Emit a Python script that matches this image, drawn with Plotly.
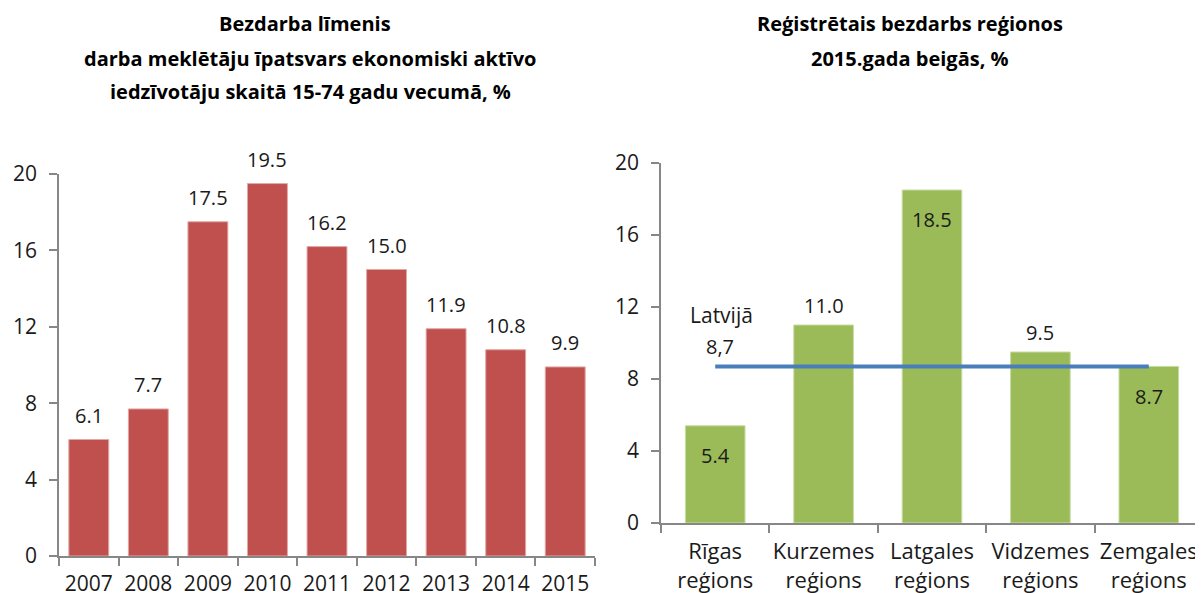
import plotly.graph_objects as go

years = ["2007", "2008", "2009", "2010", "2011", "2012", "2013", "2014", "2015"]
rate = [6.1, 7.7, 17.5, 19.5, 16.2, 15.0, 11.9, 10.8, 9.9]

regions = ["Rīgas<br>reģions", "Kurzemes<br>reģions", "Latgales<br>reģions",
           "Vidzemes<br>reģions", "Zemgales<br>reģions"]
reg_rate = [5.4, 11.0, 18.5, 9.5, 8.7]
reg_label_inside = [True, False, True, False, True]
latvia = 8.7
latvia_label = "8,7"

y_ticks = [0, 4, 8, 12, 16, 20]

FONT = "Open Sans"
TXT = "#1a1a1a"
AX = "#878787"
FS = 20

# page body has an 8px margin: figure is placed at (8, 8) in the window
W, H, OFF = 1195, 585, 8


def px(X):
    return (X - OFF) / W


def py(Y):
    return 1 - (Y - OFF) / H


fig = go.Figure()
fig.add_trace(go.Bar(x=years, y=rate, width=0.67,
                     marker=dict(color="#c0504d", line=dict(color="#e0a8a6", width=1)),
                     xaxis="x", yaxis="y", showlegend=False, hoverinfo="skip"))
fig.add_trace(go.Bar(x=regions, y=reg_rate, width=0.55,
                     marker=dict(color="#9bbb59", line=dict(color="#c6dca0", width=1)),
                     xaxis="x2", yaxis="y2", showlegend=False, hoverinfo="skip"))
fig.add_trace(go.Scatter(x=regions, y=[latvia] * len(regions), mode="lines",
                         line=dict(color="#4a7ebb", width=4),
                         xaxis="x2", yaxis="y2", showlegend=False, hoverinfo="skip"))

ann = []
for i, v in enumerate(rate):
    ann.append(dict(x=i, y=v, xref="x", yref="y", text=f"{v:.1f}", showarrow=False,
                    yanchor="middle", yshift=24, font=dict(size=FS, color=TXT, family=FONT)))
for i, (v, ins) in enumerate(zip(reg_rate, reg_label_inside)):
    ann.append(dict(x=i, y=v, xref="x2", yref="y2", text=f"{v:.1f}", showarrow=False,
                    yanchor="middle", yshift=-30 if ins else 20,
                    font=dict(size=FS, color=TXT, family=FONT)))
ann.append(dict(x=0, y=latvia, xref="x2", yref="y2", text="Latvijā", showarrow=False,
                yanchor="middle", yshift=51, xshift=6, font=dict(size=21, color=TXT, family=FONT)))
ann.append(dict(x=0, y=latvia, xref="x2", yref="y2", text=latvia_label, showarrow=False,
                yanchor="middle", yshift=20, xshift=5, font=dict(size=FS, color=TXT, family=FONT)))

tfont = dict(size=20, color="#000000", family=FONT, weight="bold")
for text, x, ypx in [("Bezdarba līmenis", 305, 23),
                     ("darba meklētāju īpatsvars ekonomiski aktīvo", 310, 58),
                     ("iedzīvotāju skaitā 15-74 gadu vecumā, %", 310, 92),
                     ("Reģistrētais bezdarbs reģionos", 910, 23),
                     ("2015.gada beigās, %", 910, 58)]:
    ann.append(dict(x=px(x), y=py(ypx), xref="paper", yref="paper", text=text,
                    showarrow=False, xanchor="center", yanchor="middle", font=tfont))

axis_common = dict(showline=True, linecolor=AX, linewidth=1.5, ticks="outside",
                   tickcolor=AX, ticklen=8, tickwidth=1.5, showgrid=False, zeroline=False,
                   fixedrange=True, automargin=False, ticklabelstandoff=8)

fig.update_layout(
    width=W, height=H,
    margin=dict(l=0, r=0, t=0, b=0, autoexpand=False),
    paper_bgcolor="white", plot_bgcolor="white",
    annotations=ann,
    xaxis=dict(domain=[px(59), px(595)], anchor="y", type="category", range=[-0.5, 8.5],
               tickson="boundaries", tickangle=0,
               tickfont=dict(size=21, color=TXT, family=FONT), **axis_common),
    yaxis=dict(domain=[py(556), py(174)], anchor="x", range=[0, 20],
               tickvals=y_ticks, tickfont=dict(size=21, color=TXT, family=FONT), **axis_common),
    xaxis2=dict(domain=[px(661), 1.0], anchor="y2", type="category", range=[-0.5, 4.5],
                tickson="boundaries", tickangle=0,
                tickfont=dict(size=22, color=TXT, family=FONT), **axis_common),
    yaxis2=dict(domain=[py(523), py(163)], anchor="x2", range=[0, 20],
                tickvals=y_ticks, tickfont=dict(size=21, color=TXT, family=FONT), **axis_common),
)

fig.write_html("out.html")
